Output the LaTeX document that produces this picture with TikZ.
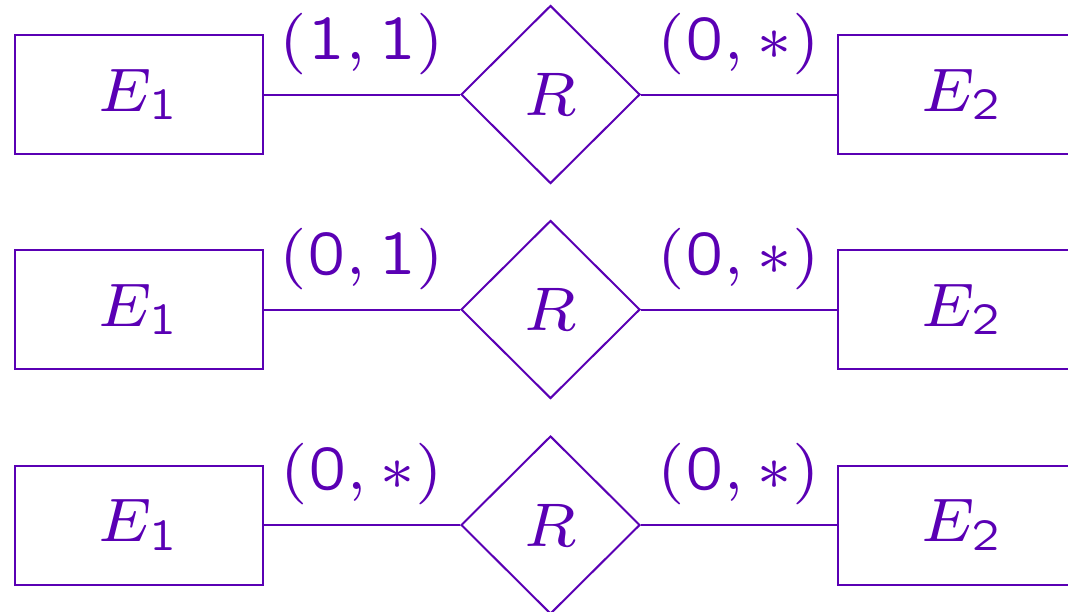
\documentclass[tikz,border=0pt]{standalone}
\usepackage{fix-cm}
\usepackage{graphicx}
\usetikzlibrary{shapes.geometric}
\definecolor{er}{RGB}{90,0,180}
\font\sqn=cmssq8 at 7pt
\font\sqs=cmssq8 at 5pt
\newcommand{\dn}[1]{\hbox{\sqn #1}}
\newcommand{\ds}[1]{\hbox{\sqs #1}}
\newcommand{\bigtxt}[1]{\scalebox{8.8}{\fontsize{7}{8.5}\selectfont #1}}
\begin{document}
\begin{tikzpicture}[x=1pt,y=-1pt,
  every node/.style={text=er},
  ent/.style={draw=er, line width=2pt, minimum width=248pt, minimum height=119pt, inner sep=0pt},
  rel/.style={draw=er, diamond, aspect=1, line width=2pt, minimum width=179pt, minimum height=178pt, inner sep=0pt},
  conn/.style={draw=er, line width=2pt},
  card/.style={anchor=south, inner sep=0pt, yshift=19pt}]
\useasboundingbox (0,0) rectangle (1068,611);
% row 1
\node[ent] (a1) at (139,94.5) {\bigtxt{$E_{\ds{1}}$}};
\node[rel] (r1) at (550.5,94.5) {\bigtxt{$R$}};
\node[ent] (b1) at (962,94.5) {\bigtxt{$E_{\ds{2}}$}};
\draw[conn] (a1) -- node[card]{\bigtxt{$(\dn{1},\dn{1})$}} (r1);
\draw[conn] (r1) -- node[card]{\bigtxt{$(\dn{0},*)$}} (b1);
% row 2
\node[ent] (a2) at (139,309.5) {\bigtxt{$E_{\ds{1}}$}};
\node[rel] (r2) at (550.5,309.5) {\bigtxt{$R$}};
\node[ent] (b2) at (962,309.5) {\bigtxt{$E_{\ds{2}}$}};
\draw[conn] (a2) -- node[card]{\bigtxt{$(\dn{0},\dn{1})$}} (r2);
\draw[conn] (r2) -- node[card]{\bigtxt{$(\dn{0},*)$}} (b2);
% row 3
\node[ent] (a3) at (139,525) {\bigtxt{$E_{\ds{1}}$}};
\node[rel] (r3) at (550.5,525) {\bigtxt{$R$}};
\node[ent] (b3) at (962,525) {\bigtxt{$E_{\ds{2}}$}};
\draw[conn] (a3) -- node[card]{\bigtxt{$(\dn{0},*)$}} (r3);
\draw[conn] (r3) -- node[card]{\bigtxt{$(\dn{0},*)$}} (b3);
\end{tikzpicture}
\end{document}
